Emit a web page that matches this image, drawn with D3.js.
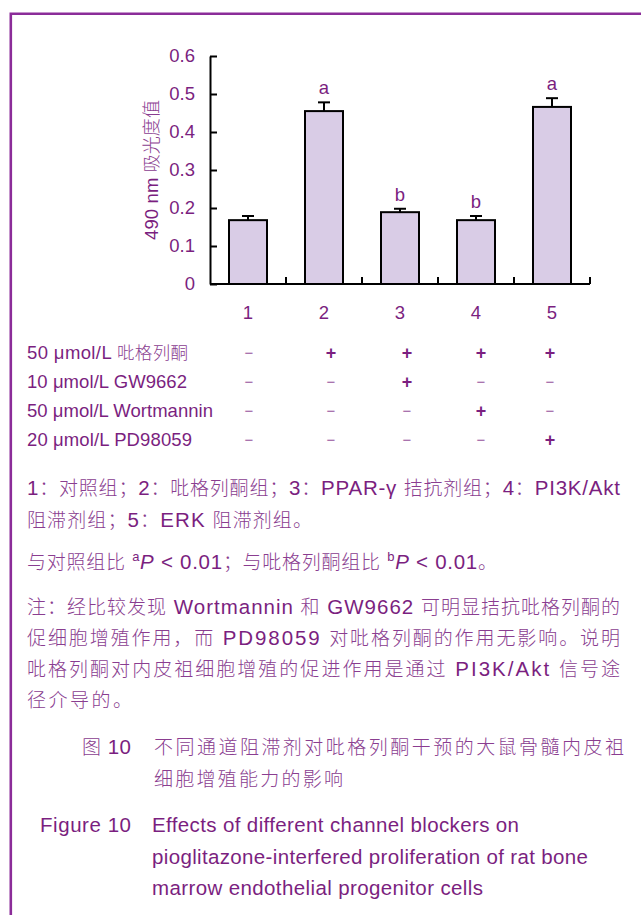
<!DOCTYPE html>
<html><head><meta charset="utf-8">
<script src="https://cdn.jsdelivr.net/npm/d3@7"></script>
<style>
html,body{margin:0;padding:0;background:#fff;}
svg{display:block;}
</style></head>
<body><svg id="c" width="641" height="915"></svg>
<script>
// ---- data ----
const categories = ["1","2","3","4","5"];
const means = [0.168, 0.455, 0.189, 0.168, 0.466];
const errors = [0.011, 0.023, 0.009, 0.011, 0.023];
const sigLetters = ["", "a", "b", "b", "a"];
const yTicks = [0, 0.1, 0.2, 0.3, 0.4, 0.5, 0.6];
const yLabel = "490 nm 吸光度值";
const treatments = ["50 μmol/L 吡格列酮", "10 μmol/L GW9662", "50 μmol/L Wortmannin", "20 μmol/L PD98059"];
const treatmentSigns = [
  ["−","+","+","+","+"],
  ["−","−","+","−","−"],
  ["−","−","−","+","−"],
  ["−","−","−","−","+"]
];
const groupNotes = [
  "1：对照组；2：吡格列酮组；3：PPAR-γ 拮抗剂组；4：PI3K/Akt",
  "阻滞剂组；5：ERK 阻滞剂组。"
];
const noteText = [
  "注：经比较发现 Wortmannin 和 GW9662 可明显拮抗吡格列酮的",
  "促细胞增殖作用，而 PD98059 对吡格列酮的作用无影响。说明",
  "吡格列酮对内皮祖细胞增殖的促进作用是通过 PI3K/Akt 信号途",
  "径介导的。"
];
const captionCnLabel = "图 10";
const captionCn = ["不同通道阻滞剂对吡格列酮干预的大鼠骨髓内皮祖", "细胞增殖能力的影响"];
const captionEnLabel = "Figure 10";
const captionEn = ["Effects of different channel blockers on", "pioglitazone-interfered proliferation of rat bone", "marrow endothelial progenitor cells"];

// ---- style ----
const TXT = "#7b1f80";
const CJK_FILL = "#8a3d90";
const BAR_FILL = "#d9cce6";
const FRAME = "#8b2c99";
const LAT = '"Liberation Sans", Arial, sans-serif';
const CJKF = '"Noto Sans CJK SC", sans-serif';

const svg = d3.select("#c");

// frame
svg.append("path").attr("d", "M10.8,915 L10.8,13.8 L641,13.8")
  .attr("fill","none").attr("stroke",FRAME).attr("stroke-width",2.6);

// mixed-script text helper
const isCJK = ch => /[\u3000-\u303f\u4e00-\u9fff\uff00-\uffef]/.test(ch);
function mixed(sel, str, opts) {
  const t = sel.append("text").attr("x", opts.x).attr("y", opts.y)
    .attr("font-size", opts.size).attr("fill", TXT)
    .attr("font-family", LAT);
  if (opts.anchor) t.attr("text-anchor", opts.anchor);
  if (opts.transform) t.attr("transform", opts.transform);
  let runs = [], cur = null;
  for (const ch of str) {
    const c = isCJK(ch);
    if (!cur || cur.c !== c) { cur = {c, s: ""}; runs.push(cur); }
    cur.s += ch;
  }
  runs.forEach(r => {
    const ts = t.append("tspan").text(r.s);
    if (r.c) ts.attr("font-family", CJKF).attr("font-weight", 300).attr("fill", CJK_FILL)
      .attr("font-size", opts.cjkSize || opts.size);
  });
  if (opts.width) t.attr("textLength", opts.width).attr("lengthAdjust", "spacing");
  return t;
}

// ---- chart ----
const x = d3.scaleBand().domain(categories).range([210, 590]).paddingInner(0).paddingOuter(0);
const y = d3.scaleLinear().domain([0, 0.6]).range([284, 56]);
const g = svg.append("g");
const bw = x.bandwidth() * 0.5;

// bars
g.selectAll("rect.bar").data(categories).join("rect")
  .attr("x", d => x(d) + (x.bandwidth() - bw) / 2)
  .attr("y", (d,i) => y(means[i]))
  .attr("width", bw)
  .attr("height", (d,i) => y(0) - y(means[i]))
  .attr("fill", BAR_FILL).attr("stroke", "#000").attr("stroke-width", 2);

// error bars
categories.forEach((c,i) => {
  const cx = x(c) + x.bandwidth()/2;
  g.append("line").attr("x1",cx).attr("x2",cx).attr("y1",y(means[i])).attr("y2",y(means[i]+errors[i]))
    .attr("stroke","#000").attr("stroke-width",2);
  g.append("line").attr("x1",cx-6).attr("x2",cx+6).attr("y1",y(means[i]+errors[i])).attr("y2",y(means[i]+errors[i]))
    .attr("stroke","#000").attr("stroke-width",2);
  if (sigLetters[i]) {
    g.append("text").attr("x", cx).attr("y", y(means[i]+errors[i]) - 8)
      .attr("text-anchor","middle").attr("font-size",18.5).attr("fill",TXT)
      .attr("font-family",LAT).text(sigLetters[i]);
  }
});

// y axis
const yAxis = d3.axisLeft(y).tickValues(yTicks).tickSizeInner(-7).tickSizeOuter(0).tickPadding(15)
  .tickFormat(d => d === 0 ? "0" : d3.format(".1f")(d));
const ya = g.append("g").attr("transform","translate(210,0)").call(yAxis);
ya.select(".domain").attr("stroke","#000").attr("stroke-width",2);
ya.selectAll(".tick line").attr("stroke","#000").attr("stroke-width",2);
ya.selectAll(".tick text").attr("fill",TXT).attr("font-size",18.5).attr("font-family",LAT);

// x axis
const xAxis = d3.axisBottom(x).tickSize(0).tickPadding(22);
const xa = g.append("g").attr("transform","translate(0,284)").call(xAxis);
xa.select(".domain").attr("stroke","#000").attr("stroke-width",2).attr("d","M210,0H590");
xa.selectAll(".tick text").attr("fill",TXT).attr("font-size",18.5).attr("font-family",LAT);
// x ticks at band boundaries (inside)
categories.forEach(c => {
  const bx = x(c) + x.bandwidth();
  g.append("line").attr("x1",bx).attr("x2",bx).attr("y1",284).attr("y2",277)
    .attr("stroke","#000").attr("stroke-width",2);
});

// y label
mixed(svg, yLabel, {x:0, y:0, size:18.5, cjkSize:18, anchor:"middle", transform:"translate(158,170) rotate(-90)", width:140});

// ---- treatment table ----
const colX = [249, 331, 407, 481, 550];
const rowY = [359, 388, 417, 446];
const rowW = [161, 160, 186, 165];
treatments.forEach((t,r) => {
  mixed(svg, t, {x:27, y:rowY[r], size:18.5, cjkSize:17.5, width:rowW[r]});
  treatmentSigns[r].forEach((s,c) => {
    const plus = s === "+";
    svg.append("text").attr("x", colX[c]).attr("y", rowY[r] - (plus ? 0 : 1))
      .attr("text-anchor","middle").attr("font-size", plus ? 18 : 15)
      .attr("font-weight", plus ? "bold" : "normal")
      .attr("fill", plus ? TXT : "#9a5aa0")
      .attr("font-family",LAT).text(s);
  });
});

// ---- notes ----
mixed(svg, groupNotes[0], {x:27, y:495, size:20.5, cjkSize:19, width:593});
mixed(svg, groupNotes[1], {x:27, y:527, size:20.5, cjkSize:19, width:285});

// P-value line with superscripts
(function(){
  const t = svg.append("text").attr("x",27).attr("y",569).attr("font-size",20.5).attr("fill",TXT)
    .attr("font-family",LAT)
    .attr("textLength",470).attr("lengthAdjust","spacing");
  const cj = s => t.append("tspan").text(s).attr("font-family",CJKF).attr("font-size",19).attr("font-weight",300).attr("fill",CJK_FILL);
  const la = s => t.append("tspan").text(s);
  cj("与对照组比"); la(" ");
  t.append("tspan").text("a").attr("font-size",13).attr("dy",-8);
  t.append("tspan").text("P").attr("font-style","italic").attr("dy",8);
  la(" < 0.01"); cj("；与吡格列酮组比"); la(" ");
  t.append("tspan").text("b").attr("font-size",13).attr("dy",-8);
  t.append("tspan").text("P").attr("font-style","italic").attr("dy",8);
  la(" < 0.01"); cj("。");
})();

const noteY = [614, 645, 676, 707];
const noteW = [593, 593, 593, 105];
noteText.forEach((s,i) => mixed(svg, s, {x:27, y:noteY[i], size:20.5, cjkSize:19, width:noteW[i]}));

// ---- captions ----
mixed(svg, captionCnLabel, {x:82, y:754, size:20.5, cjkSize:19, width:49});
mixed(svg, captionCn[0], {x:154, y:754, size:19, width:470});
mixed(svg, captionCn[1], {x:154, y:786, size:19, width:189});
mixed(svg, captionEnLabel, {x:40, y:832, size:20.5, width:91});
const enW = [367, 436, 331];
captionEn.forEach((s,i) => mixed(svg, s, {x:152, y:832 + i*31.5, size:20.5, width:enW[i]}));
</script></body></html>
